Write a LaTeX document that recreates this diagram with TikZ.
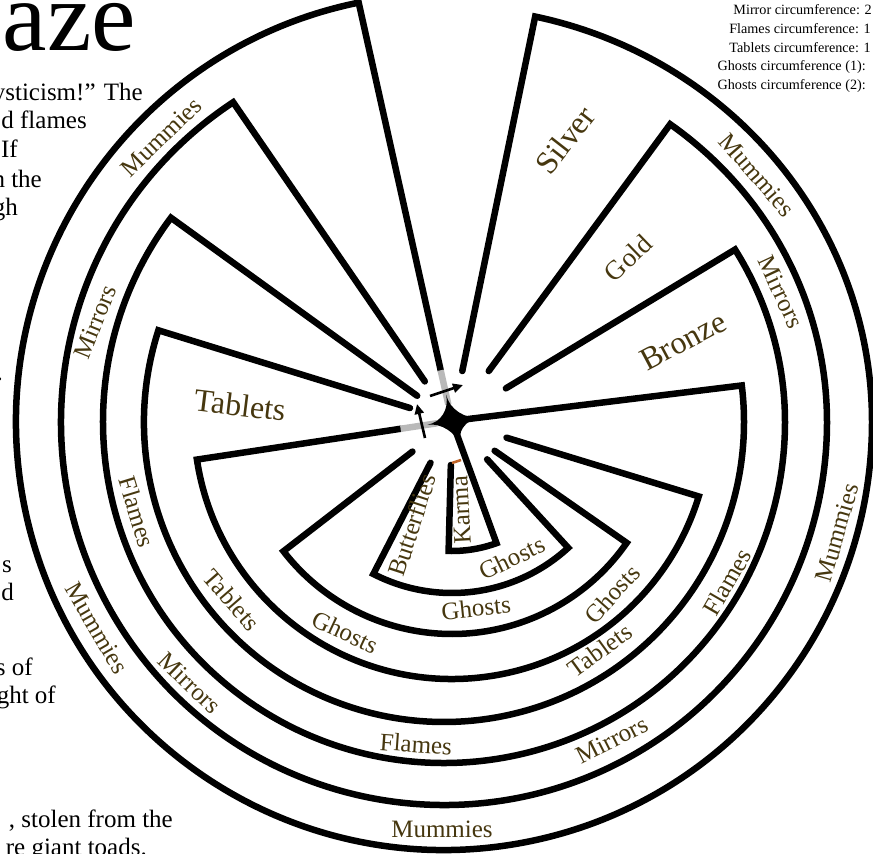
\documentclass[tikz,border=0pt]{standalone}
\usepackage{fontspec}
\setmainfont{Liberation Serif}
\usetikzlibrary{calc,arrows.meta}
\definecolor{labcol}{RGB}{70,55,15}
\definecolor{doorgrey}{RGB}{185,185,185}
\definecolor{tickcol}{RGB}{190,100,40}
% #1 name, #2 centre, #3 radius, #4 left angle, #5 right angle, #6 inner dist left, #7 inner dist right
\newcommand\mazewall[7]{%
  \coordinate (#1L) at ($(#2)+(#4:#3)$);
  \coordinate (#1R) at ($(#2)+(#5:#3)$);
  \draw[wall] ($(H)!#6!(#1L)$) -- (#1L) arc[start angle=#4, end angle=#5+360, radius=#3] -- ($(H)!#7!(#1R)$);
}
% outer walls whose upper-right quarter is flattened: #4 = parameter angle, #7 = y radius of that quarter
\newcommand\mazewallflat[7]{%
  \coordinate (#1L) at ($(O)+(#3:#2)$);
  \coordinate (#1R) at ($(O)+(#4:#2 and #7)$);
  \draw[wall] ($(H)!#5!(#1L)$) -- (#1L) arc[start angle=#3, end angle=360, radius=#2]
     arc[start angle=0, end angle=#4, x radius=#2, y radius=#7] -- ($(H)!#6!(#1R)$);
}
\begin{document}
\begin{tikzpicture}[x=1pt,y=1pt,
  wall/.style={line width=6.5pt, line cap=round, line join=miter},
  door/.style={line width=6.5pt, draw=doorgrey},
  lab/.style={text=labcol, font=\fontsize{25}{30}\selectfont, inner sep=0pt},
  biglab/.style={text=labcol, font=\fontsize{32}{38}\selectfont, inner sep=0pt},
  body/.style={font=\fontsize{25}{30}\selectfont, inner sep=0pt, anchor=base east},
  side/.style={font=\fontsize{14.2}{18}\selectfont, inner sep=0pt, anchor=base east},
  mover/.style={line width=2.6pt, -{Triangle[length=10pt,width=9pt]}}
]
\useasboundingbox (0,0) rectangle (873,-854);
\coordinate (O) at (444,-422);
\coordinate (H) at (452,-421);

% walls
\mazewallflat{Wa}{428}{101.5}{77.7}{52pt}{51pt}{415}
\mazewallflat{Wb}{383}{123.4}{53.8}{48pt}{62pt}{369}
\mazewallflat{Wc}{341}{143.2}{31.4}{43pt}{63pt}{331}
\mazewall{Wd}{O}{300}{162.2}{7.0}{44pt}{0pt}
\mazewall{We}{H}{258}{188.6}{-17}{52pt}{57pt}
\mazewall{Wf}{H}{213}{217.7}{-34.9}{50pt}{52pt}
\mazewall{Wg}{H}{172}{242.8}{-47.5}{47pt}{52pt}
\mazewall{Wh}{H}{130}{268.5}{-70}{44pt}{0pt}

% grey door pieces
\draw[door] ($(H)!52pt!(WaL)$) -- ($(H)!17pt!(WaL)$);
\draw[door] ($(H)!52pt!(WeL)$) -- ($(H)!15pt!(WeL)$);

% central hub
\coordinate (h1) at ($(H)+(102.6:27)$);
\coordinate (h2) at ($(H)+(7:29)$);
\coordinate (h3) at ($(H)+(-70:27)$);
\coordinate (h4) at ($(H)+(188.6:25)$);
\fill (h1) .. controls ($(H)!0.45!(h1)$) and ($(H)!0.45!(h2)$) .. (h2)
      .. controls ($(H)!0.45!(h2)$) and ($(H)!0.45!(h3)$) .. (h3)
      .. controls ($(H)!0.45!(h3)$) and ($(H)!0.45!(h4)$) .. (h4)
      .. controls ($(H)!0.45!(h4)$) and ($(H)!0.45!(h1)$) .. (h1) -- cycle;

% rotation arrows
\coordinate (a1s) at (430,-396);
\coordinate (a1e) at (463,-385);
\coordinate (a2s) at (425,-438);
\coordinate (a2e) at (417,-404);
\draw[mover] (a1s) -- (a1e);
\draw[mover] (a2s) -- (a2e);

% small orange tick
\coordinate (t1) at (452,-463);
\coordinate (t2) at (461,-460);
\draw[line width=2.6pt, draw=tickcol] (t1) -- (t2);

% corridor labels
\node[lab, rotate=44]  (l1)  at (161,-137) {Mummies};
\node[lab, rotate=68]  (l2)  at (95,-322)  {Mirrors};
\node[biglab, rotate=-7] (l3) at (240,-405) {Tablets};
\node[lab, rotate=-73] (l4)  at (137,-512) {Flames};
\node[lab, rotate=-60] (l5)  at (97,-628)  {Mummies};
\node[lab, rotate=-49] (l6)  at (232,-600) {Tablets};
\node[lab, rotate=-44] (l7)  at (190,-683) {Mirrors};
\node[lab, rotate=-25] (l8)  at (345,-632) {Ghosts};
\node[lab, rotate=-4]  (l9)  at (416,-744) {Flames};
\node[lab, rotate=0]   (l10) at (442,-829) {Mummies};
\node[lab, rotate=6]   (l11) at (476,-608) {Ghosts};
\node[lab, rotate=26]  (l12) at (512,-558) {Ghosts};
\node[lab, rotate=72]  (l13) at (412,-525) {Butterflies};
\node[lab, rotate=93]  (l14) at (461,-510) {Karma};
\node[lab, rotate=48]  (l15) at (612,-594) {Ghosts};
\node[lab, rotate=36]  (l16) at (600,-650) {Tablets};
\node[lab, rotate=27]  (l17) at (612,-740) {Mirrors};
\node[lab, rotate=60]  (l18) at (727,-582) {Flames};
\node[lab, rotate=74]  (l19) at (837,-533) {Mummies};
\node[biglab, rotate=28] (l20) at (683,-341) {Bronze};
\node[lab, rotate=-65] (l21) at (781,-292) {Mirrors};
\node[lab, rotate=-49] (l22) at (757,-175) {Mummies};
\node[text=labcol, font=\fontsize{27}{32}\selectfont, inner sep=0pt, rotate=44] (l23) at (628,-258) {Gold};
\node[biglab, rotate=52] (l24) at (565,-140) {Silver};

% page text
\node[font=\fontsize{100}{110}\selectfont, inner sep=0pt, anchor=base east] (hd) at (136,-50) {aze};
\node[body] (b1) at (143,-100) {ysticism!” The};
\node[body] (b2) at (87,-128) {d flames};
\node[body] (b3) at (18,-157) {If};
\node[body] (b4) at (42,-187) {n the};
\node[body] (b5) at (18,-215) {gh};
\node[body] (b6) at (3,-380) {.};
\node[body] (b7) at (12,-572) {s};
\node[body] (b8) at (14,-600) {d};
\node[body] (b9) at (33,-675) {s of};
\node[body] (b10) at (56,-703) {ght of};
\node[body] (b11) at (173,-827) {, stolen from the};
\node[body] (b12) at (147,-855) {re giant toads.};

\node[side] (s1) at (872,-14) {Mirror circumference: 2};
\node[side] (s2) at (871,-33) {Flames circumference: 1};
\node[side] (s3) at (871,-52) {Tablets circumference: 1};
\node[side] (s4) at (866,-70) {Ghosts circumference (1):};
\node[side] (s5) at (866,-89) {Ghosts circumference (2):};
\end{tikzpicture}
\end{document}
